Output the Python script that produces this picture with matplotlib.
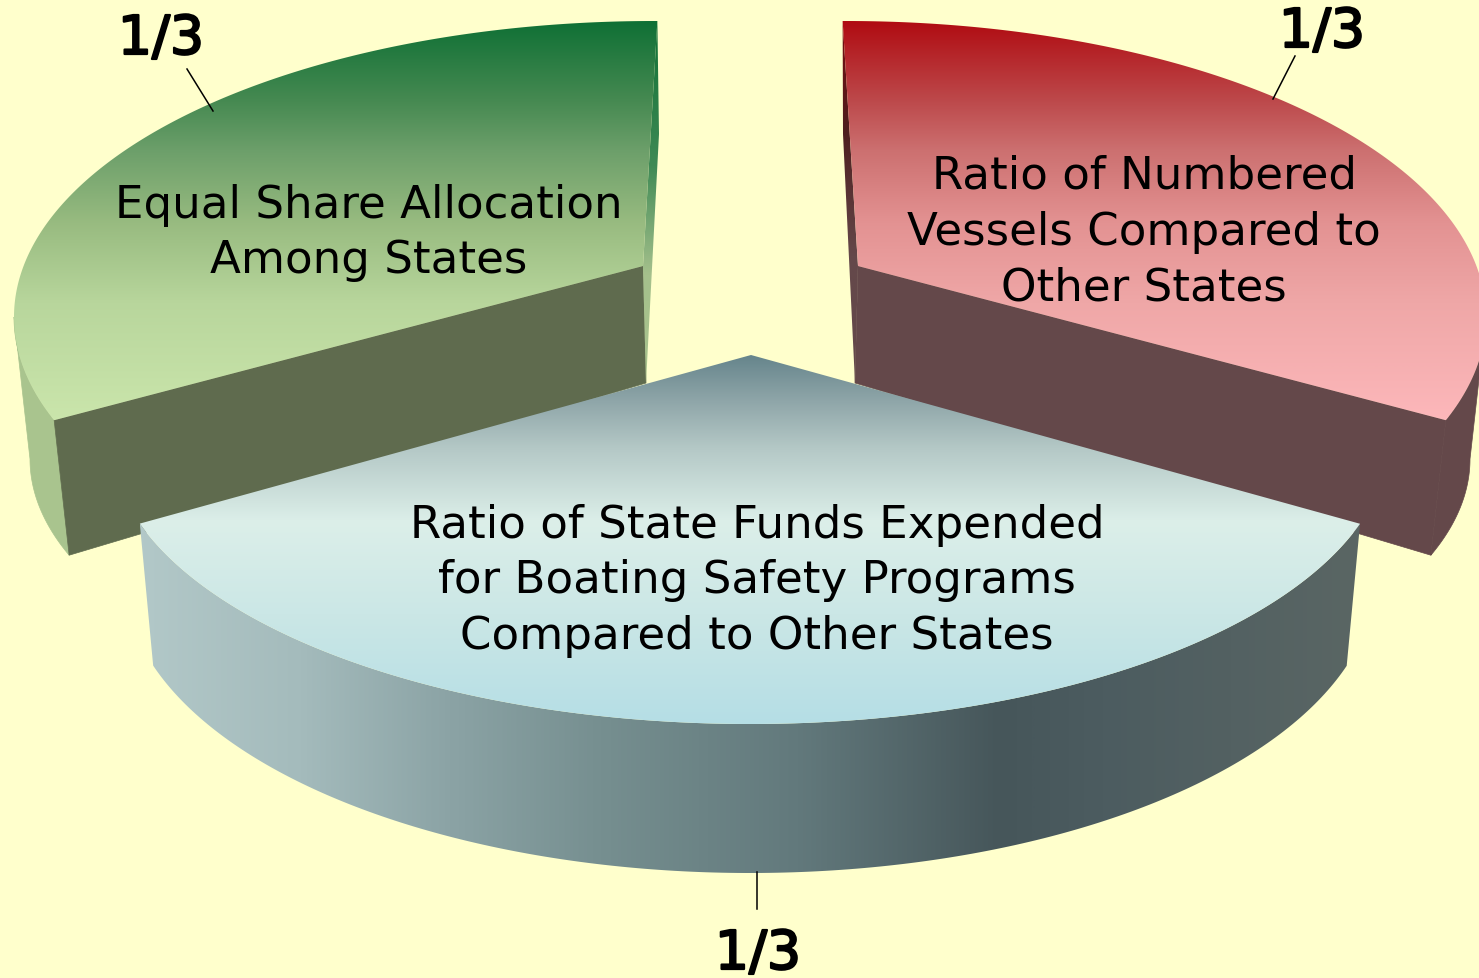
import numpy as np
from matplotlib import pyplot as plt
from matplotlib import patheffects
from matplotlib.colors import LinearSegmentedColormap
from matplotlib.patches import Polygon

# shares go clockwise from 12 o'clock
share_labels = ['1/3', '1/3', '1/3']
shares = [1 / 3, 1 / 3, 1 / 3]
slice_names = ['Ratio of Numbered\nVessels Compared to\nOther States',
               'Ratio of State Funds Expended\nfor Boating Safety Programs\nCompared to Other States',
               'Equal Share Allocation\nAmong States']

BG = '#ffffcc'
W, H = 1479, 979

# per slice layout, in pixels: (cx, cy, rx, ry)
top_ell = [(846, 318, 640, 296), (750, 438, 640, 287), (654, 318, 640, 296)]
low_ell = [(846, 460, 624, 276), (750, 577, 626, 297), (654, 460, 624, 276)]
apex_top = [(858, 267), (751, 356), (643, 267)]
apex_low = [(855, 384), (751, 470), (646, 384)]
# the projection stretches the front slice and squeezes the back ones, so nominal angles get warped
warp = [0.9225, 1.207, 0.9225]
shift = [-0.3, -12.4, 9.6]

top_cols = [
    [(0, '#b00c12'), (0.2, '#bd4a4c'), (0.32, '#cc7070'), (0.5, '#e39292'), (0.7, '#efa7a7'), (1, '#fdb8bb')],
    [(0, '#66858c'), (0.12, '#8ea5a8'), (0.25, '#b4c8c6'), (0.45, '#dcefe9'), (0.7, '#cbe7e6'), (1, '#b5dee5')],
    [(0, '#0f7035'), (0.2, '#478a52'), (0.32, '#6c9f6a'), (0.5, '#98bb80'), (0.7, '#b8d69c'), (1, '#cbe6ac')],
]
top_range = [(22, 425), (356, 726), (22, 425)]

text_pos = [(1144, 232), (757, 581), (369, 233)]
label_pos = [(1322, 33), (758, 955), (161, 40)]
leader = [((1295, 57), (1273, 100)), ((757, 873), (757, 910)), ((187, 70), (213, 112))]


def arc(ell, t0, t1, n=200):
    cx, cy, rx, ry = ell
    t = np.radians(np.linspace(t0, t1, n))
    return np.column_stack([cx + rx * np.sin(t), cy - ry * np.cos(t)])


def gradient(ax, pts, stops, extent, vertical=True, z=1):
    cmap = LinearSegmentedColormap.from_list('g', stops)
    ramp = np.linspace(0, 1, 512)
    ramp = ramp[:, None] if vertical else ramp[None, :]
    im = ax.imshow(ramp, cmap=cmap, extent=extent, aspect='auto', origin='upper', zorder=z,
                   interpolation='bilinear')
    patch = Polygon(pts, closed=True, transform=ax.transData, fc='none', ec='none')
    ax.add_patch(patch)
    im.set_clip_path(patch)


fig = plt.figure(figsize=(W / 100, H / 100), dpi=100, facecolor=BG)
ax = fig.add_axes([0, 0, 1, 1])
ax.set_axis_off()

edges = np.cumsum([0] + shares) * 360
spans = []
for i in range(3):
    a0 = edges[i] + shift[i]
    a1 = a0 + (edges[i + 1] - edges[i]) * warp[i]
    spans.append((a0, a1))

# red slice
t0, t1 = spans[0]
top = arc(top_ell[0], t0, t1)
low = arc(low_ell[0], 90, t1)
outer = np.vstack([arc(top_ell[0], 90, t1), low[::-1]])
ax.add_patch(Polygon(outer, fc='#64484a', ec='#64484a', lw=0.5, zorder=1))
ax.add_patch(Polygon([apex_top[0], top[-1], low[-1], apex_low[0]], fc='#64484a', ec='#64484a', lw=0.5, zorder=1))
gradient(ax, [top[0], (843, 135), apex_low[0], apex_top[0]],
         [(0, '#7a0c0e'), (0.3, '#4e1e1e'), (0.65, '#64484a'), (1, '#64484a')], (835, 865, 384, 22), z=1)
gradient(ax, np.vstack([top, [apex_top[0]]]), top_cols[0], (800, W + 20, top_range[0][1], top_range[0][0]), z=2)

# green slice
t0, t1 = spans[2]
top = arc(top_ell[2], t0, t1)
low = arc(low_ell[2], t0, 270)
outer = np.vstack([arc(top_ell[2], t0, 270), low[::-1]])
ax.add_patch(Polygon(outer, fc='#a9c48e', ec='#a9c48e', lw=0.5, zorder=1))
ax.add_patch(Polygon([apex_top[2], top[0], low[0], apex_low[2]], fc='#5f6b4e', ec='#5f6b4e', lw=0.5, zorder=1))
gradient(ax, [top[-1], (659, 135), apex_low[2], apex_top[2]],
         [(0, '#0f7035'), (0.4, '#3f8a55'), (0.7, '#a5c08c'), (1, '#a9c48e')], (635, 665, 384, 22), z=1)
gradient(ax, np.vstack([top, [apex_top[2]]]), top_cols[2], (0, 670, top_range[2][1], top_range[2][0]), z=2)

# front slice sits over the other two
t0, t1 = spans[1]
top = arc(top_ell[1], t0, t1)
low = arc(low_ell[1], t0, t1)
gradient(ax, np.vstack([top, low[::-1]]),
         [(0, '#b2c8c8'), (0.13, '#a4bbbc'), (0.254, '#8ba3a5'), (0.377, '#768f90'), (0.54, '#62797c'),
          (0.705, '#46565a'), (0.79, '#4c5c60'), (1, '#5a6664')],
         (140, 1360, 900, 500), vertical=False, z=3)
gradient(ax, np.vstack([top, [apex_top[1]]]), top_cols[1], (130, 1370, top_range[1][1], top_range[1][0]), z=4)

for i in range(3):
    ax.text(*text_pos[i], slice_names[i], ha='center', va='center', fontsize=32.5, color='black',
            linespacing=1.38, family='DejaVu Sans', zorder=6)
    t = ax.text(*label_pos[i], share_labels[i], ha='center', va='center', fontsize=38.5, color='black',
                family='DejaVu Sans', zorder=6)
    t.set_path_effects([patheffects.withStroke(linewidth=1.6, foreground='black')])
    (x0, y0), (x1, y1) = leader[i]
    ax.plot([x0, x1], [y0, y1], color='black', lw=1.1, zorder=5)

ax.set_xlim(0, W)
ax.set_ylim(H, 0)
fig.savefig('out.png', dpi=100, facecolor=BG)
